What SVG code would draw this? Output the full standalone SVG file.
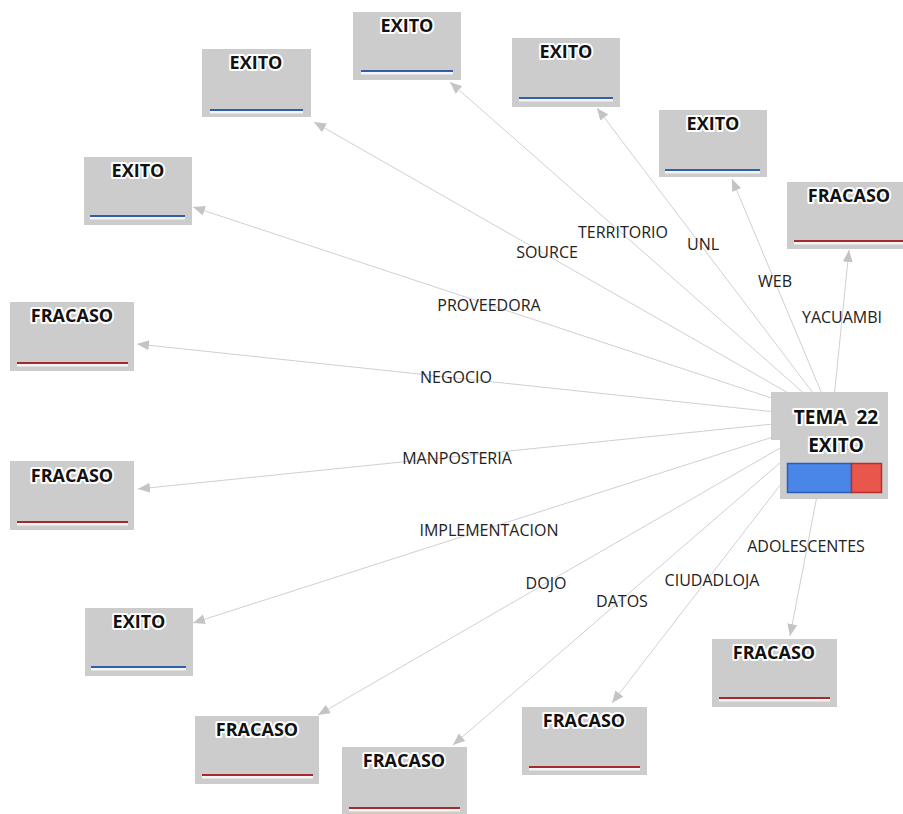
<svg xmlns="http://www.w3.org/2000/svg" width="903" height="814" viewBox="0 0 903 814">
  <style>
    .box { fill: #cccccc; }
    .title { font-family: "Open Sans", "Liberation Sans", sans-serif; font-weight: bold; font-size: 18px; fill: #111; text-anchor: middle; stroke: #ffffff; stroke-width: 4px; stroke-linejoin: round; paint-order: stroke; }
    .hub { font-size: 19px; }
    .label { font-family: "Open Sans", "Liberation Sans", sans-serif; font-size: 16px; fill: #222; text-anchor: middle; dominant-baseline: central; }
    .edge { stroke: #cfcfd6; stroke-width: 1; fill: none; marker-end: url(#arrow); }
    .under { stroke: #f4f4f4; stroke-width: 3; }
    .win { stroke: #2e5fa8; stroke-width: 2; }
    .lose { stroke: #a52a2a; stroke-width: 2; }
  </style>
  <defs>
    <marker id="arrow" markerUnits="userSpaceOnUse" markerWidth="13" markerHeight="11" refX="12" refY="5" orient="auto">
      <path d="M0,0 L12,5 L0,10 z" fill="#c4c4c4"/>
    </marker>
  </defs>
  <rect width="903" height="814" fill="#ffffff"/>

  <!-- connectors from the hub -->
  <g id="edges">
    <line class="edge" x1="832" y1="418" x2="450" y2="82"/>
    <line class="edge" x1="832" y1="418" x2="314" y2="122"/>
    <line class="edge" x1="832" y1="418" x2="597" y2="108"/>
    <line class="edge" x1="832" y1="418" x2="732" y2="179"/>
    <line class="edge" x1="832" y1="418" x2="193" y2="207"/>
    <line class="edge" x1="832" y1="418" x2="849" y2="250"/>
    <line class="edge" x1="832" y1="418" x2="137" y2="344"/>
    <line class="edge" x1="832" y1="418" x2="138" y2="489"/>
    <line class="edge" x1="832" y1="418" x2="193" y2="623"/>
    <line class="edge" x1="832" y1="418" x2="318" y2="715"/>
    <line class="edge" x1="832" y1="418" x2="453" y2="745"/>
    <line class="edge" x1="832" y1="418" x2="612" y2="703"/>
    <line class="edge" x1="832" y1="418" x2="790" y2="636"/>
    <text class="label" x="623" y="232">TERRITORIO</text>
    <text class="label" x="547" y="252">SOURCE</text>
    <text class="label" x="703" y="244">UNL</text>
    <text class="label" x="775" y="281">WEB</text>
    <text class="label" x="842" y="317">YACUAMBI</text>
    <text class="label" x="489" y="305">PROVEEDORA</text>
    <text class="label" x="456" y="377">NEGOCIO</text>
    <text class="label" x="457" y="458">MANPOSTERIA</text>
    <text class="label" x="489" y="530">IMPLEMENTACION</text>
    <text class="label" x="806" y="546">ADOLESCENTES</text>
    <text class="label" x="712" y="580">CIUDADLOJA</text>
    <text class="label" x="546" y="583">DOJO</text>
    <text class="label" x="622" y="601">DATOS</text>
  </g>

  <!-- outcome nodes -->
  <g id="n-territorio">
    <rect class="box" x="353" y="12" width="108" height="68"/>
    <text class="title" x="407" y="32">EXITO</text>
    <line class="under" x1="361" y1="73" x2="453" y2="73"/>
    <line class="win" x1="361" y1="71" x2="453" y2="71"/>
  </g>
  <g id="n-source">
    <rect class="box" x="202" y="49" width="109" height="68"/>
    <text class="title" x="256" y="69">EXITO</text>
    <line class="under" x1="210" y1="112" x2="303" y2="112"/>
    <line class="win" x1="210" y1="110" x2="303" y2="110"/>
  </g>
  <g id="n-unl">
    <rect class="box" x="512" y="38" width="108" height="69"/>
    <text class="title" x="566" y="58">EXITO</text>
    <line class="under" x1="519" y1="100" x2="613" y2="100"/>
    <line class="win" x1="519" y1="98" x2="613" y2="98"/>
  </g>
  <g id="n-web">
    <rect class="box" x="659" y="110" width="108" height="67"/>
    <text class="title" x="713" y="130">EXITO</text>
    <line class="under" x1="665" y1="172" x2="760" y2="172"/>
    <line class="win" x1="665" y1="170" x2="760" y2="170"/>
  </g>
  <g id="n-proveedora">
    <rect class="box" x="84" y="157" width="108" height="68"/>
    <text class="title" x="138" y="177">EXITO</text>
    <line class="under" x1="90" y1="218" x2="185" y2="218"/>
    <line class="win" x1="90" y1="216" x2="185" y2="216"/>
  </g>
  <g id="n-yacuambi">
    <rect class="box" x="787" y="182" width="124" height="67"/>
    <text class="title" x="849" y="202">FRACASO</text>
    <line class="under" x1="794" y1="243" x2="903" y2="243"/>
    <line class="lose" x1="794" y1="241" x2="903" y2="241"/>
  </g>
  <g id="n-negocio">
    <rect class="box" x="10" y="302" width="124" height="69"/>
    <text class="title" x="72" y="322">FRACASO</text>
    <line class="under" x1="17" y1="365" x2="128" y2="365"/>
    <line class="lose" x1="17" y1="363" x2="128" y2="363"/>
  </g>
  <g id="n-manposteria">
    <rect class="box" x="10" y="461" width="124" height="69"/>
    <text class="title" x="72" y="482">FRACASO</text>
    <line class="under" x1="17" y1="524" x2="128" y2="524"/>
    <line class="lose" x1="17" y1="522" x2="128" y2="522"/>
  </g>
  <g id="n-implementacion">
    <rect class="box" x="85" y="608" width="108" height="68"/>
    <text class="title" x="139" y="628">EXITO</text>
    <line class="under" x1="91" y1="669" x2="186" y2="669"/>
    <line class="win" x1="91" y1="667" x2="186" y2="667"/>
  </g>
  <g id="n-dojo">
    <rect class="box" x="195" y="716" width="124" height="68"/>
    <text class="title" x="257" y="736">FRACASO</text>
    <line class="under" x1="202" y1="777" x2="313" y2="777"/>
    <line class="lose" x1="202" y1="775" x2="313" y2="775"/>
  </g>
  <g id="n-datos">
    <rect class="box" x="342" y="747" width="125" height="67"/>
    <text class="title" x="404" y="767">FRACASO</text>
    <line class="under" x1="349" y1="810" x2="460" y2="810"/>
    <line class="lose" x1="349" y1="808" x2="460" y2="808"/>
  </g>
  <g id="n-ciudadloja">
    <rect class="box" x="522" y="707" width="125" height="68"/>
    <text class="title" x="584" y="727">FRACASO</text>
    <line class="under" x1="529" y1="769" x2="640" y2="769"/>
    <line class="lose" x1="529" y1="767" x2="640" y2="767"/>
  </g>
  <g id="n-adolescentes">
    <rect class="box" x="712" y="639" width="125" height="68"/>
    <text class="title" x="774" y="659">FRACASO</text>
    <line class="under" x1="719" y1="700" x2="830" y2="700"/>
    <line class="lose" x1="719" y1="698" x2="830" y2="698"/>
  </g>

  <!-- hub node with outcome bar -->
  <g id="n-tema22">
    <path class="box" d="M771,392 H888 V499 H780 V440 H771 Z"/>
    <text class="title hub" x="836" y="424" xml:space="preserve">TEMA  22</text>
    <text class="title hub" x="836" y="452">EXITO</text>
    <rect x="787.5" y="463.5" width="64" height="29" fill="#4a86e8" stroke="#2a5db8" stroke-width="1.5"/>
    <rect x="851.5" y="463.5" width="30" height="29" fill="#e8564c" stroke="#b5302a" stroke-width="1.5"/>
  </g>
</svg>
